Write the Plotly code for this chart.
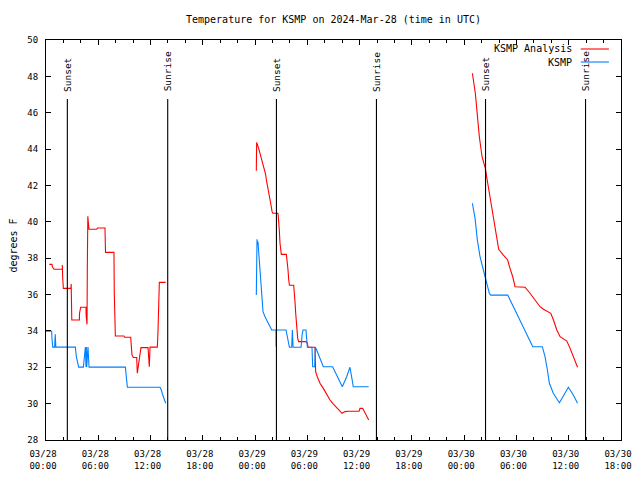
import pandas as pd
import plotly.graph_objects as go

BASE = pd.Timestamp("2024-03-28 00:00")

# KSMP Analysis (red) - hours since 03/28 00:00 UTC, None separates runs
analysis_hours = [
    0.38, 0.69, 0.73, 0.92, 1.87, 1.88, 1.91, 1.99, 2.87, 2.89, 2.93, 2.96, 3.83, 3.85, 3.98,
    4.59, 4.61, 4.71, 4.74, 4.80, 4.93, 5.82, 5.90, 6.77, 6.83, 7.80, 7.84, 7.96, 8.95, 9.03,
    9.72, 9.80, 9.87, 10.03, 10.41, 10.48, 10.64, 10.79, 10.90, 11.71, 11.78, 11.86, 11.94,
    12.78, 12.86, 12.94, 13.01, 13.74,
    None,
    24.14, 24.18, 24.41, 24.56, 24.72, 24.87, 25.03, 25.18, 25.33, 25.49, 25.64, 25.79, 25.95,
    26.03, 26.63, 26.71, 26.78, 26.86, 26.94, 27.01, 27.59, 27.67, 27.78, 27.86, 27.94, 28.43,
    28.51, 28.58, 28.66, 28.74, 28.81, 28.89, 29.00, 29.84, 30.00, 30.08, 30.88, 30.95, 31.14,
    31.45, 31.83, 32.14, 32.37, 32.60, 32.91, 33.37, 33.75, 33.98, 34.32, 34.71, 35.93, 36.04,
    36.35, 36.65, 37.04,
    None,
    48.94, 49.28, 49.51, 49.74, 50.05, 50.43, 50.58, 50.77, 50.97, 51.20, 51.50, 51.73, 51.96,
    52.50, 52.99, 53.26, 53.57, 53.84, 54.99, 55.56, 56.14, 56.71, 57.10, 57.94, 58.25, 58.63,
    59.01, 59.78, 60.16, 60.55, 61.01,
]
analysis_temp = [
    37.66, 37.66, 37.53, 37.39, 37.39, 37.62, 36.98, 36.34, 36.34, 36.58, 35.61, 34.60, 34.60, 34.97, 35.30,
    35.30, 34.84, 34.36, 37.35, 40.30, 39.59, 39.59, 39.66, 39.66, 38.32, 38.32, 36.03, 33.72, 33.72, 33.65,
    33.65, 33.04, 32.67, 32.54, 32.54, 31.67, 32.22, 32.80, 33.08, 33.08, 32.58, 32.03, 33.11,
    33.11, 34.05, 35.75, 36.67, 36.67,
    None,
    42.81, 44.37, 44.04, 43.77, 43.58, 43.31, 43.03, 42.67, 42.21, 41.84, 41.47, 41.02, 40.56,
    40.47, 40.47, 40.14, 39.55, 38.82, 38.55, 38.21, 38.21, 37.90, 37.35, 36.80, 36.51, 36.51,
    36.16, 35.61, 34.97, 34.32, 33.86, 33.59, 33.41, 33.41, 33.32, 33.10, 33.10, 31.76, 31.48,
    31.12, 30.84, 30.56, 30.38, 30.20, 30.01, 29.79, 29.56, 29.47, 29.56, 29.58, 29.58, 29.74,
    29.74, 29.47, 29.10,
    None,
    48.17, 47.07, 45.87, 44.68, 43.58, 42.94, 42.48, 41.93, 41.20, 40.47, 39.73, 39.00, 38.49,
    38.17, 37.90, 37.44, 36.98, 36.43, 36.40, 36.07, 35.70, 35.33, 35.19, 34.97, 34.60, 34.05,
    33.68, 33.44, 33.04, 32.58, 32.00,
]

# KSMP observations (blue)
obs_hours = [
    0.00, 0.65, 0.69, 0.77, 0.99, 1.06, 1.13, 3.37, 3.48, 3.64, 3.75, 4.29, 4.40, 4.52, 4.59,
    4.63, 4.67, 4.82, 4.86, 4.90, 4.94, 9.11, 9.18, 9.26, 9.34, 13.09, 13.24, 13.36, 13.51,
    13.62, 13.74,
    None,
    24.14, 24.22, 24.30, 24.34, 24.37, 24.45, 24.53, 24.60, 24.68, 24.76, 24.83, 24.91, 25.14,
    25.53, 25.91, 26.40, 26.42, 26.44, 27.55, 27.70, 27.82, 27.94, 28.20, 28.28, 28.36, 29.28,
    29.40, 29.50, 29.84, 30.00, 30.53, 30.61, 30.84, 30.92, 31.07, 31.45, 31.83, 32.90, 33.36,
    34.01, 34.51, 34.89, 35.08, 35.27, 37.04,
    None,
    48.94, 49.25, 49.51, 49.82, 50.20, 50.51, 50.89, 51.05, 53.00, 53.65, 54.41, 55.18, 55.87,
    56.97, 57.28, 57.55, 57.78, 58.24, 58.93, 59.96, 60.53, 61.01,
]
obs_temp = [
    33.98, 33.98, 33.54, 33.11, 33.11, 33.81, 33.11, 33.11, 32.58, 32.25, 32.01, 32.01, 32.84, 33.11, 32.01,
    33.11, 32.01, 33.11, 32.01, 33.11, 32.01, 32.01, 31.76, 31.21, 30.90, 30.90, 30.75, 30.53, 30.30,
    30.11, 30.02,
    None,
    35.97, 39.04, 38.72, 38.90, 38.63, 38.08, 37.53, 37.35, 36.71, 36.07, 35.52, 35.06, 34.78,
    34.42, 34.05, 34.05, 33.13, 34.05, 34.05, 33.72, 33.50, 33.10, 33.10, 34.05, 33.10, 33.10,
    33.80, 34.05, 34.05, 33.10, 33.10, 32.03, 32.03, 33.10, 32.95, 32.49, 32.03, 32.03, 31.57,
    30.93, 31.48, 32.00, 31.48, 30.93, 30.93,
    None,
    41.02, 40.19, 39.00, 38.08, 37.35, 36.80, 36.07, 35.97, 35.97, 35.33, 34.60, 33.87, 33.13,
    33.13, 32.58, 31.85, 31.12, 30.56, 30.05, 30.90, 30.48, 30.02,
]

sunset_hours = [2.45, 26.45, 50.45]
sunrise_hours = [13.97, 37.93, 61.93]

series_names = ["KSMP Analysis", "KSMP"]
series_colors = ["#ff0000", "#0080ff"]


def to_time(hours):
    return [None if h is None else BASE + pd.Timedelta(hours=h) for h in hours]


FONT = "DejaVu Sans Mono"
TICK = 9
W, H = 632, 464  # page body has an 8px margin

fig = go.Figure()
fig.add_trace(go.Scatter(x=to_time(analysis_hours), y=analysis_temp, mode="lines",
                         line=dict(color=series_colors[0], width=1.1),
                         name=series_names[0], connectgaps=False, showlegend=False))
fig.add_trace(go.Scatter(x=to_time(obs_hours), y=obs_temp, mode="lines",
                         line=dict(color=series_colors[1], width=1.1),
                         name=series_names[1], connectgaps=False, showlegend=False))

shapes = []
annotations = []
for label, hrs in (("Sunset", sunset_hours), ("Sunrise", sunrise_hours)):
    for t in to_time(hrs):
        shapes.append(dict(type="line", xref="x", yref="y", x0=t, x1=t, y0=28, y1=46.75,
                           line=dict(color="black", width=1.1)))
        annotations.append(dict(x=t, y=47.05, xref="x", yref="y", text=label, showarrow=False,
                                textangle=-90, xanchor="center", yanchor="bottom",
                                font=dict(family=FONT, size=9.5, color="black")))

# legend drawn gnuplot-style: text right-aligned, sample line to its right
leg_y = [0.9775, 0.945]
for name, color, yy in zip(series_names, series_colors, leg_y):
    annotations.append(dict(x=0.918, y=yy, xref="paper", yref="paper", text=name,
                            showarrow=False, xanchor="right", yanchor="middle",
                            font=dict(family=FONT, size=10, color="black")))
    shapes.append(dict(type="line", xref="paper", yref="paper", x0=0.930, x1=0.979,
                       y0=yy, y1=yy, line=dict(color=color, width=1.1)))

annotations.append(dict(x=-0.0557, y=0.486, xref="paper", yref="paper", text="degrees F",
                        showarrow=False, textangle=-90, xanchor="center", yanchor="middle",
                        font=dict(family=FONT, size=10, color="black")))

fig.update_layout(
    width=W, height=H,
    margin=dict(l=38, r=19, t=32, b=32, autoexpand=False),
    paper_bgcolor="white", plot_bgcolor="white",
    font=dict(family=FONT, size=10, color="black"),
    title=dict(text="Temperature for KSMP on 2024-Mar-28 (time in UTC)", x=0.5, xref="paper",
               xanchor="center", y=1 - 11 / H, yanchor="middle",
               font=dict(family=FONT, size=10, color="black")),
    shapes=shapes, annotations=annotations,
    showlegend=False,
)
fig.update_xaxes(
    type="date", range=[BASE, BASE + pd.Timedelta(hours=66)], automargin=False,
    tick0=BASE, dtick=6 * 3600 * 1000, tickformat="%m/%d<br>%H:%M",
    showgrid=False, zeroline=False, showline=True, linecolor="black", linewidth=1,
    mirror="allticks", ticks="inside", ticklen=5, tickcolor="black",
    minor=dict(dtick=2 * 3600 * 1000, ticks="inside", ticklen=3, tickcolor="black"),
    tickfont=dict(family=FONT, size=TICK, color="black"),
    ticklabelshift=-3, ticklabelstandoff=5,
)
fig.update_yaxes(
    range=[28, 50], dtick=2, tick0=28, automargin=False,
    showgrid=False, zeroline=False, showline=True, linecolor="black", linewidth=1,
    mirror="allticks", ticks="inside", ticklen=5, tickcolor="black",
    tickfont=dict(family=FONT, size=TICK, color="black"),
    ticklabelstandoff=5,
)

fig.write_html("out.html")
